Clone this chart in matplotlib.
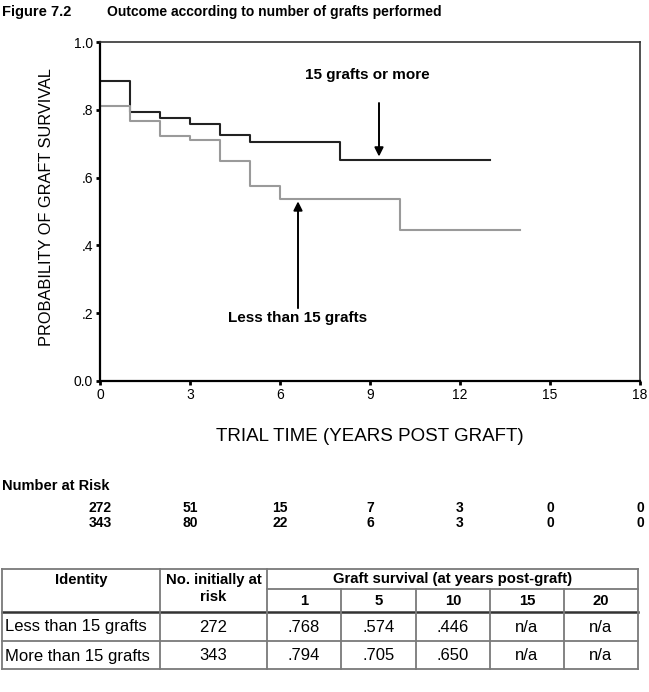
import matplotlib
matplotlib.use("Agg")
import matplotlib.pyplot as plt
from matplotlib.transforms import blended_transform_factory

# ---------------- data ----------------
more_times = [0, 1, 2, 3, 4, 5, 8, 13]
more_surv = [0.885, 0.794, 0.776, 0.757, 0.727, 0.705, 0.652, 0.652]
less_times = [0, 1, 2, 3, 4, 5, 6, 10, 14]
less_surv = [0.810, 0.768, 0.724, 0.711, 0.650, 0.574, 0.537, 0.446, 0.446]

x_ticks = [0, 3, 6, 9, 12, 15, 18]
y_ticks = [0.0, 0.2, 0.4, 0.6, 0.8, 1.0]
y_tick_labels = ["0.0", ".2", ".4", ".6", ".8", "1.0"]

risk_less = ["272", "51", "15", "7", "3", "0", "0"]
risk_more = ["343", "80", "22", "6", "3", "0", "0"]

table_years = ["1", "5", "10", "15", "20"]
table_groups = ["Less than 15 grafts", "More than 15 grafts"]
table_initial = ["272", "343"]
table_values = [[".768", ".574", ".446", "n/a", "n/a"],
                [".794", ".705", ".650", "n/a", "n/a"]]

plt.rcParams['font.family'] = ['Liberation Sans', 'DejaVu Sans']

W, H = 649, 692
fig = plt.figure(figsize=(W / 100, H / 100), dpi=100)

# main axes (pixel box 100..640 x, 42..381 y)
ax = fig.add_axes([100 / W, 1 - 381 / H, 540 / W, 339 / H])
ax.step(more_times, more_surv, where='post', color='#222222', lw=1.5)
ax.step(less_times, less_surv, where='post', color='#9a9a9a', lw=1.5)
ax.set_xlim(0, 18)
ax.set_ylim(0, 1)
ax.set_xticks(x_ticks)
ax.set_xticklabels([str(t) for t in x_ticks])
ax.set_yticks(y_ticks)
ax.set_yticklabels(y_tick_labels)
ax.tick_params(direction='out', length=3, width=2, labelsize=10, pad=2, color='black')
for s in ['left', 'bottom']:
    ax.spines[s].set_linewidth(1.6)
for s in ['top', 'right']:
    ax.spines[s].set_linewidth(1.2)
    ax.spines[s].set_color('#333333')

ax.set_xlabel("TRIAL TIME (YEARS POST GRAFT)", fontsize=13.5)
ax.xaxis.set_label_coords(0.5, -0.139)
ax.set_ylabel("PROBABILITY OF GRAFT SURVIVAL", fontsize=11.8)
ax.yaxis.set_label_coords(-0.085, 0.513)

arrow = dict(arrowstyle='-|>', mutation_scale=13, lw=1.4, color='black',
             shrinkA=0, shrinkB=0)
ax.text(8.9, 0.903, "15 grafts or more", ha='center', va='center',
        fontsize=11, fontweight='bold')
ax.annotate("", xy=(9.3, 0.662), xytext=(9.3, 0.82), arrowprops=arrow)
ax.text(6.57, 0.186, "Less than 15 grafts", ha='center', va='center',
        fontsize=11, fontweight='bold')
ax.annotate("", xy=(6.6, 0.530), xytext=(6.6, 0.215), arrowprops=arrow)

# overlay axes in pixel coordinates
tax = fig.add_axes([0, 0, 1, 1], zorder=-1)
tax.set_xlim(0, W)
tax.set_ylim(H, 0)
tax.axis('off')

tax.text(2, 12, "Figure 7.2", fontsize=10.5, fontweight='bold', va='center', ha='left')
tax.text(107, 12, "Outcome according to number of grafts performed", fontsize=10,
         fontweight='bold', va='center', ha='left')

# number at risk
tax.text(2, 486, "Number at Risk", fontsize=10.5, fontweight='bold', va='center', ha='left')
tr = blended_transform_factory(ax.transData, tax.transData)
for xv, a, b in zip(x_ticks, risk_less, risk_more):
    tax.text(xv, 508, a, transform=tr, fontsize=10, fontweight='bold', ha='center', va='center')
    tax.text(xv, 523, b, transform=tr, fontsize=10, fontweight='bold', ha='center', va='center')

# table
L, R = 2, 638
top, sub, hbot, rline, bot = 569, 589, 612, 641, 669
c1, c2 = 160, 267
ycols = [267, 341, 416, 490, 564, 638]
gc = '#7a7a7a'
lw = 1.3
tax.plot([L, R], [top, top], color=gc, lw=lw)
tax.plot([L, R], [bot, bot], color=gc, lw=lw)
tax.plot([L, R], [rline, rline], color=gc, lw=lw)
tax.plot([c2, R], [sub, sub], color=gc, lw=lw)
tax.plot([L, R], [hbot, hbot], color='#333333', lw=1.8)
for xv in [L, c1, c2, R]:
    tax.plot([xv, xv], [top, bot], color=gc, lw=lw)
for xv in ycols[1:-1]:
    tax.plot([xv, xv], [sub, bot], color=gc, lw=lw)

hfs = 10.7
tax.text((L + c1) / 2, 580, "Identity", fontsize=hfs, fontweight='bold', ha='center', va='center')
tax.text((c1 + c2) / 2, 580, "No. initially at", fontsize=hfs, fontweight='bold', ha='center', va='center')
tax.text((c1 + c2) / 2, 597, "risk", fontsize=hfs, fontweight='bold', ha='center', va='center')
tax.text((c2 + R) / 2, 579, "Graft survival (at years post-graft)", fontsize=hfs,
         fontweight='bold', ha='center', va='center')
for i, yr in enumerate(table_years):
    tax.text((ycols[i] + ycols[i + 1]) / 2, 601, yr, fontsize=hfs, fontweight='bold',
             ha='center', va='center')
bfs = 12
for r, ypos in enumerate([627, 656]):
    tax.text(5, ypos, table_groups[r], fontsize=bfs, ha='left', va='center')
    tax.text((c1 + c2) / 2, ypos, table_initial[r], fontsize=bfs, ha='center', va='center')
    for i, v in enumerate(table_values[r]):
        tax.text((ycols[i] + ycols[i + 1]) / 2, ypos, v, fontsize=bfs, ha='center', va='center')

fig.savefig("out.png", dpi=100)
